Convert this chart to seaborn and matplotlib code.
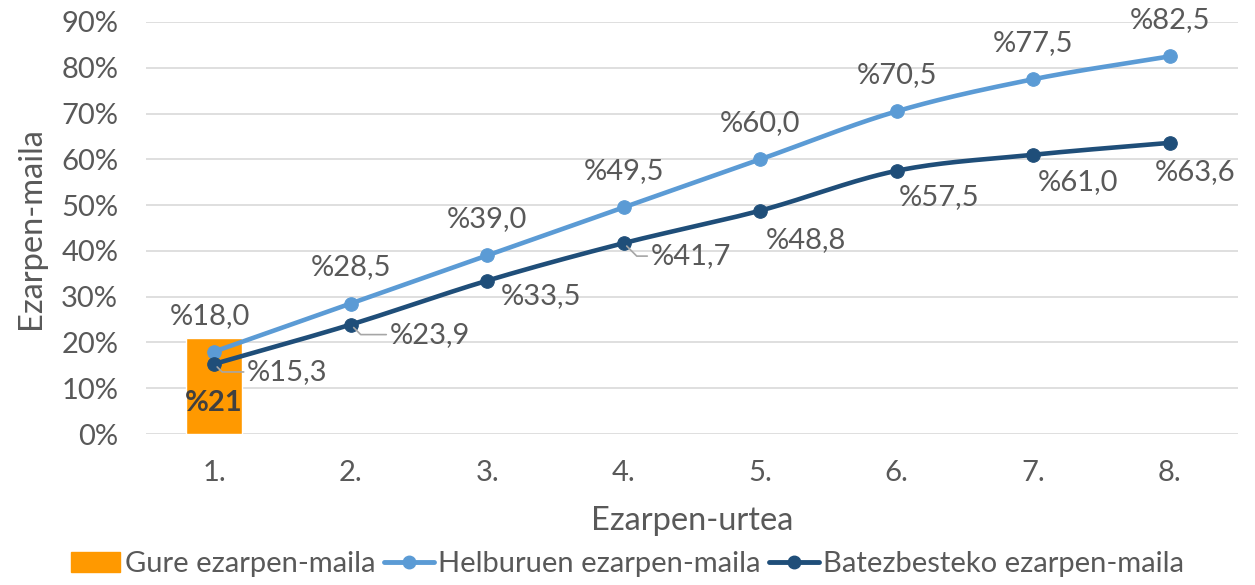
import numpy as np
import pandas as pd
import matplotlib
matplotlib.use("Agg")
import matplotlib.pyplot as plt
import seaborn as sns
from matplotlib.patches import Patch
from matplotlib.lines import Line2D

categories = ["1.", "2.", "3.", "4.", "5.", "6.", "7.", "8."]
gure = [21.0]  # only first year
helburu = [18.0, 28.5, 39.0, 49.5, 60.0, 70.5, 77.5, 82.5]
batez = [15.3, 23.9, 33.5, 41.7, 48.8, 57.5, 61.0, 63.6]
yticks = [0, 10, 20, 30, 40, 50, 60, 70, 80, 90]

sns.set_theme(style="white")
plt.rcParams['font.family'] = ['Lato', 'DejaVu Sans']

GRAY = "#595959"
ORANGE = "#FF9900"
LIGHT = "#5B9BD5"
DARK = "#1F4E79"
FS = 21

fig = plt.figure(figsize=(12.55, 5.85), dpi=100)
ax = fig.add_axes([0.1163, 0.2581, 0.8702, 0.7043])

bar_df = pd.DataFrame({"cat": categories[:len(gure)], "val": gure})
sns.barplot(data=bar_df, x="cat", y="val", order=categories, color=ORANGE,
            saturation=1, width=0.41, ax=ax, zorder=2)


def catmull(xs, ys, n=30):
    xs = np.asarray(xs, float); ys = np.asarray(ys, float)
    px = np.concatenate([[2*xs[0]-xs[1]], xs, [2*xs[-1]-xs[-2]]])
    py = np.concatenate([[2*ys[0]-ys[1]], ys, [2*ys[-1]-ys[-2]]])
    ox, oy = [], []
    for i in range(1, len(px)-2):
        t = np.linspace(0, 1, n, endpoint=False)
        for arr, out in ((px, ox), (py, oy)):
            p0, p1, p2, p3 = arr[i-1], arr[i], arr[i+1], arr[i+2]
            out.extend(0.5*((2*p1) + (-p0+p2)*t + (2*p0-5*p1+4*p2-p3)*t**2 + (-p0+3*p1-3*p2+p3)*t**3))
    ox.append(xs[-1]); oy.append(ys[-1])
    return np.array(ox), np.array(oy)


xpos = np.arange(len(categories))
for vals, col in ((helburu, LIGHT), (batez, DARK)):
    sx, sy = catmull(xpos, vals)
    sns.lineplot(x=sx, y=sy, color=col, linewidth=3.3, ax=ax, sort=False, zorder=3)
    sns.scatterplot(x=xpos, y=vals, color=col, s=95, edgecolor=col, ax=ax, zorder=4)


def fmt(v):
    return "%" + f"{v:.1f}".replace(".", ",")


for i, v in enumerate(helburu):
    ax.annotate(fmt(v), (xpos[i], v), xytext=(-4 if i == 0 else 0, 36),
                textcoords="offset pixels", ha="center", va="center",
                fontsize=FS, color=GRAY, zorder=5)

dark_off = [(73, -8), (79, -10), (54, -15), (67, -13), (46, -29), (42, -26), (45, -27), (25, -29)]
leader = [True, True, False, True, False, False, False, False]
for i, v in enumerate(batez):
    dx, dy = dark_off[i]
    kw = {}
    if leader[i]:
        kw["arrowprops"] = dict(arrowstyle="-", color="#A6A6A6", lw=1.2,
                                shrinkA=0, shrinkB=3, relpos=(0, 0.5),
                                connectionstyle="angle,angleA=0,angleB=-45,rad=0")
    ax.annotate(fmt(v), (xpos[i], v), xytext=(dx, dy),
                textcoords="offset pixels", ha="center", va="center",
                fontsize=FS, color=GRAY, zorder=5, **kw)

ax.text(0, 6.8, "%" + f"{gure[0]:.0f}", ha="center", va="center", fontsize=FS,
        fontweight="bold", color="#404040", zorder=5)

ax.set_xlim(-0.5, len(categories) - 0.5)
ax.set_ylim(0, 90)
ax.set_yticks(yticks)
ax.set_yticklabels([f"{t}%" for t in yticks])
ax.set_xticks(xpos)
ax.set_xticklabels(categories)
ax.yaxis.grid(True, color="#D9D9D9", linewidth=1.2, zorder=0)
ax.set_axisbelow(True)
for s in ax.spines.values():
    s.set_visible(False)
ax.tick_params(axis="both", length=0, labelsize=FS, labelcolor=GRAY)
ax.tick_params(axis="x", pad=19)
ax.tick_params(axis="y", pad=20)
ax.set_xlabel("Ezarpen-urtea", fontsize=23.5, color=GRAY, labelpad=14)
ax.set_ylabel("Ezarpen-maila", fontsize=23.5, color=GRAY, labelpad=11)

handles = [Patch(facecolor=ORANGE, edgecolor=ORANGE),
           Line2D([], [], color=LIGHT, lw=3.5, marker="o", markersize=9),
           Line2D([], [], color=DARK, lw=3.5, marker="o", markersize=9)]
labels = ["Gure ezarpen-maila", "Helburuen ezarpen-maila", "Batezbesteko ezarpen-maila"]
fig.legend(handles, labels, loc="center", bbox_to_anchor=(0.5, 0.036), ncol=3,
           frameon=False, fontsize=FS, labelcolor=GRAY, handlelength=1.7,
           handletextpad=0.15, columnspacing=0.3, borderpad=0.2)

fig.savefig("out.png", dpi=100)
